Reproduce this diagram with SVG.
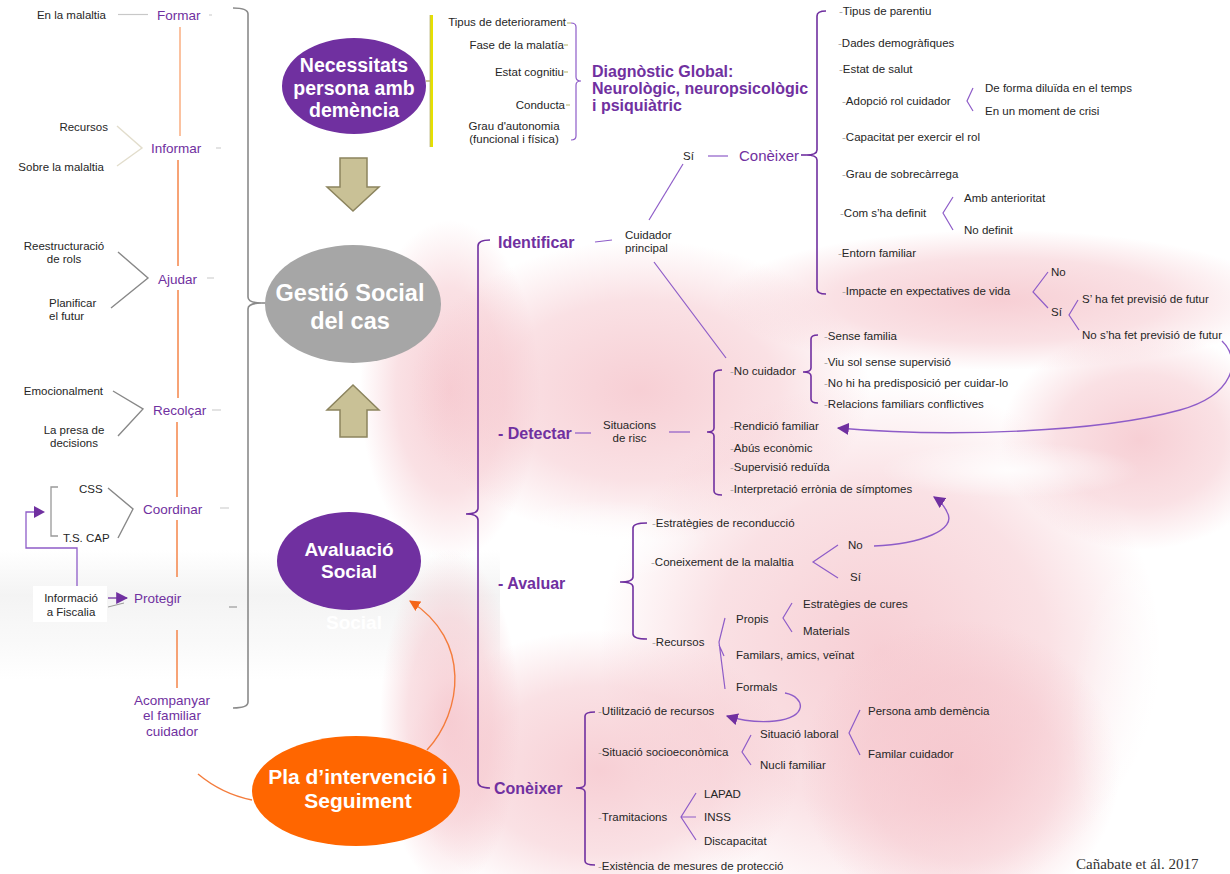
<svg xmlns="http://www.w3.org/2000/svg" width="1230" height="874" viewBox="0 0 1230 874">
<style>
text{font-family:"Liberation Sans",Arial,sans-serif}
.t{font-size:11.5px;fill:#262626}
.d{fill:#a8a8a8}
.p{font-size:13.5px;fill:#7030a0}
.b{font-size:16px;font-weight:bold;fill:#7030a0}
.w{fill:#fff;font-weight:bold;text-anchor:middle}
.m{text-anchor:middle}
.e{text-anchor:end}
.ln{fill:none;stroke:#8e5cc8;stroke-width:1.2}
.br{fill:none;stroke:#7030a0;stroke-width:1.6}
.or{fill:none;stroke:#f47c3c;stroke-width:1.4}
.gr{fill:none;stroke:#8a8a8a;stroke-width:1.6}
.lg{fill:none;stroke:#c8c8c8;stroke-width:1.2}
.arw{fill:#c9c196;stroke:#8c845e;stroke-width:1.5}
.pk{fill:url(#pk)}
</style>
<defs>
<radialGradient id="pk"><stop offset="0" stop-color="#f5c3ca" stop-opacity="0.8"/><stop offset="0.6" stop-color="#f5c3ca" stop-opacity="0.5"/><stop offset="1" stop-color="#f5c3ca" stop-opacity="0"/></radialGradient>
<radialGradient id="wh"><stop offset="0" stop-color="#fff" stop-opacity="0.85"/><stop offset="1" stop-color="#fff" stop-opacity="0"/></radialGradient>
<linearGradient id="gb" x1="0" y1="0" x2="0" y2="1"><stop offset="0" stop-color="#e8e8e8" stop-opacity="0"/><stop offset="0.35" stop-color="#e8e8e8" stop-opacity="0.5"/><stop offset="0.7" stop-color="#eeeeee" stop-opacity="0.35"/><stop offset="1" stop-color="#eeeeee" stop-opacity="0"/></linearGradient>
<marker id="ap" viewBox="0 0 10 10" refX="9" refY="5" markerWidth="12" markerHeight="12" markerUnits="userSpaceOnUse" orient="auto"><path d="M0,0 L10,5 L0,10 z" fill="#7030a0"/></marker>
<marker id="ao" viewBox="0 0 10 10" refX="9" refY="5" markerWidth="11" markerHeight="11" markerUnits="userSpaceOnUse" orient="auto"><path d="M0,0 L10,5 L0,10 z" fill="#f4661a"/></marker>
</defs>
<rect width="1230" height="874" fill="#fff"/>
<g id="background">
<rect x="0" y="550" width="500" height="130" fill="url(#gb)"/>
<ellipse class="pk" cx="450" cy="390" rx="90" ry="170"/>
<ellipse class="pk" cx="640" cy="390" rx="230" ry="150"/>
<ellipse class="pk" cx="880" cy="650" rx="280" ry="270"/>
<ellipse class="pk" cx="960" cy="770" rx="160" ry="150"/>
<ellipse class="pk" cx="1000" cy="300" rx="280" ry="70"/>
<ellipse class="pk" cx="1140" cy="440" rx="140" ry="110"/>
<ellipse class="pk" cx="600" cy="770" rx="200" ry="140"/>
<ellipse class="pk" cx="450" cy="720" rx="70" ry="170"/>
<ellipse fill="url(#wh)" cx="600" cy="540" rx="110" ry="40"/>
<ellipse fill="url(#wh)" cx="1010" cy="470" rx="130" ry="28"/>
<ellipse fill="url(#wh)" cx="1180" cy="720" rx="110" ry="200"/>
</g>
<text class="w" x="354" y="629" style="font-size:19px">Social</text>

<g id="connectors">
<path class="gr" d="M233,8 Q248,8 248,14 V297 Q248,303 262,303 Q248,303 248,309 V702 Q248,708 233,708"/>
<line class="gr" x1="262" y1="303" x2="267" y2="303"/>
<line class="lg" x1="118" y1="14.5" x2="148" y2="14.5"/>
<g stroke="#f47c3c" stroke-width="1.4">
<line x1="180" y1="27" x2="180" y2="136" stroke="#f9a878"/>
<line x1="178" y1="160" x2="178" y2="266"/>
<line x1="178" y1="290" x2="178" y2="398"/>
<line x1="177" y1="422" x2="177" y2="497"/>
<line x1="177" y1="520" x2="177" y2="577"/>
<line x1="177" y1="630" x2="177" y2="688"/>
</g>
<g stroke="#d0d0d0" stroke-width="1.2">
<line x1="209" y1="15" x2="212" y2="15"/>
<line x1="216" y1="148" x2="221" y2="148"/>
<line x1="207" y1="278" x2="214" y2="278"/>
<line x1="212" y1="410" x2="221" y2="410"/>
<line x1="220" y1="508" x2="229" y2="508"/>
<line x1="229" y1="607" x2="237" y2="607" stroke="#999"/>
</g>
<polyline fill="none" stroke="#e2ddcc" stroke-width="1.4" points="117,126 142,148 117,166"/>
<polyline fill="none" stroke="#888" stroke-width="1.4" points="118,252 148,278 111,308"/>
<polyline fill="none" stroke="#888" stroke-width="1.4" points="113,391 143,409 118,436"/>
<polyline fill="none" stroke="#888" stroke-width="1.4" points="108,488 133,509 118,538"/>
<path fill="none" stroke="#999" stroke-width="1.3" d="M58,487 H51 V536 H58"/>
<path fill="none" stroke="#8e5cc8" stroke-width="1.3" d="M77,586 V548 H26 V512 H34"/>
<polygon points="34,506 45,512 34,518" fill="#7030a0"/>
<line x1="108" y1="598" x2="127" y2="598" stroke="#7030a0" stroke-width="1.3" marker-end="url(#ap)"/>
<line x1="108" y1="607" x2="124" y2="603" stroke="#999" stroke-width="1"/>

<line x1="426" y1="81" x2="431" y2="81" stroke="#a8a050" stroke-width="1.2"/>
<line x1="431.5" y1="15" x2="431.5" y2="147" stroke="#e6e000" stroke-width="3"/>
<line x1="430" y1="15" x2="430" y2="147" stroke="#b8b478" stroke-width="0.8"/>
<g stroke="#b0b060" stroke-width="1">
<line x1="567" y1="23" x2="571" y2="23"/>
<line x1="564" y1="45" x2="568" y2="45"/>
<line x1="564" y1="72" x2="568" y2="72"/>
<line x1="566" y1="105" x2="570" y2="105"/>
</g>
<path class="ln" d="M571,23 Q576,23 576,27 V77 Q576,81 581,81 Q576,81 576,85 V136 Q576,140 571,140"/>

<path class="or" d="M198,774 Q222,794 252,800"/>
<path d="M427,750 C462,712 472,640 410,601" fill="none" stroke="#f47c3c" stroke-width="1.4" marker-end="url(#ao)"/>

<path class="br" d="M490,240 Q478,240 478,246 V508 Q478,514 466,514 Q478,514 478,520 V782 Q478,788 490,788"/>
<line class="ln" x1="595" y1="242" x2="612" y2="240"/>
<line class="ln" x1="649" y1="220" x2="683" y2="164"/>
<line class="ln" x1="654" y1="262" x2="726" y2="358"/>
<line class="ln" x1="708" y1="156" x2="728" y2="156"/>
<line class="br" x1="801" y1="155" x2="806" y2="155"/>
<path class="br" d="M826,11 Q817,11 817,16 V150 Q817,155 806,155 Q817,155 817,160 V289 Q817,294 826,294"/>
<polyline class="ln" points="973,88 967,101 973,111"/>
<polyline class="ln" points="953,197 943,213 953,230"/>
<polyline class="ln" points="1048,272 1033,292 1048,308"/>
<polyline class="ln" points="1078,300 1069,315 1079,330"/>
<path d="M1222,341 C1242,360 1234,395 1180,410 C1100,432 950,438 838,428" fill="none" stroke="#8e5cc8" stroke-width="1.4" marker-end="url(#ap)"/>

<line class="ln" x1="575" y1="433" x2="591" y2="433"/>
<line class="ln" x1="669" y1="432" x2="690" y2="432"/>
<path class="br" d="M722,370 Q714,370 714,374 V428 Q714,432 707,432 Q714,432 714,436 V491 Q714,495 722,495"/>
<path class="br" d="M818,335 Q811,335 811,339 V368 Q811,372 803,372 Q811,372 811,376 V399 Q811,403 818,403"/>

<path class="br" d="M647,523 Q633,523 633,528 V577 Q633,582 620,582 Q633,582 633,587 V634 Q633,639 647,639"/>
<polyline class="ln" points="838,545 813,562 838,578"/>
<path d="M874,546 C920,544 958,530 947,512 C944,505 940,501 934,497" fill="none" stroke="#8e5cc8" stroke-width="1.4" marker-end="url(#ap)"/>
<path class="ln" d="M725,618 L719,642 L725,689 M719,645 L724,656"/>
<polyline class="ln" points="792,603 783,618 792,632"/>
<path d="M785,693 C806,697 808,718 775,721 C755,723 740,720 727,716" fill="none" stroke="#8e5cc8" stroke-width="1.4" marker-end="url(#ap)"/>

<path class="br" d="M595,712 Q585,712 585,716 V784 Q585,788 576,788 Q585,788 585,792 V861 Q585,865 595,865"/>
<polyline class="ln" points="751,735 742,752 751,765"/>
<polyline class="ln" points="860,710 849,733 860,755"/>
<path class="ln" d="M696,793 L681,817 L696,840 M681,817 H696"/>
</g>

<g id="left-items">
<text class="t e" x="106" y="19">En la malaltia</text>
<text class="t e" x="108" y="131">Recursos</text>
<text class="t e" x="104" y="171">Sobre la malaltia</text>
<text class="t m" x="64" y="250">Reestructuració</text>
<text class="t m" x="64" y="263">de rols</text>
<text class="t" x="49" y="307">Planificar</text>
<text class="t" x="49" y="320">el futur</text>
<text class="t e" x="103" y="395">Emocionalment</text>
<text class="t m" x="74" y="434">La presa de</text>
<text class="t m" x="74" y="447">decisions</text>
<text class="t" x="79" y="493">CSS</text>
<text class="t" x="63" y="542">T.S. CAP</text>
</g>
<g id="fiscalia">
<rect x="33" y="586" width="74" height="36" fill="#fff"/>
<text class="t m" x="71" y="602">Informació</text>
<text class="t m" x="71" y="616">a Fiscalia</text>
</g>
<g id="formar"><text class="p" x="157" y="19.5">Formar</text></g>
<g id="informar"><text class="p" x="151" y="152.5">Informar</text></g>
<g id="ajudar"><text class="p" x="158" y="283.5">Ajudar</text></g>
<g id="recolcar"><text class="p" x="153" y="414.5">Recolçar</text></g>
<g id="coordinar"><text class="p" x="143" y="513.5">Coordinar</text></g>
<g id="protegir"><text class="p" x="134" y="603">Protegir</text></g>
<g id="acompanyar">
<text class="p m" x="172" y="704.5">Acompanyar</text>
<text class="p m" x="172" y="720">el familiar</text>
<text class="p m" x="172" y="735.5">cuidador</text>
</g>

<g id="necessitats">
<ellipse cx="354" cy="86" rx="72" ry="48" fill="#7030a0"/>
<text class="w" x="354" y="72" style="font-size:19.5px">Necessitats</text>
<text class="w" x="354" y="95" style="font-size:19.5px">persona amb</text>
<text class="w" x="354" y="117" style="font-size:19.5px">demència</text>
</g>
<g id="arrow-down"><path class="arw" d="M340,158 H367 V187 H379 L353,211 L327,187 H340 Z"/></g>
<g id="gestio">
<ellipse cx="353" cy="304" rx="88" ry="59" fill="#a6a6a6"/>
<text class="w" x="350" y="301" style="font-size:23.5px">Gestió Social</text>
<text class="w" x="350" y="329" style="font-size:23.5px">del cas</text>
</g>
<g id="arrow-up"><path class="arw" d="M353,385 L379,410 H367 V437 H340 V410 H327 Z"/></g>
<g id="avaluacio">
<ellipse cx="349" cy="561" rx="72" ry="49" fill="#7030a0"/>
<text class="w" x="349" y="556" style="font-size:19px">Avaluació</text>
<text class="w" x="349" y="578" style="font-size:19px">Social</text>
</g>
<g id="pla">
<ellipse cx="356" cy="791" rx="104" ry="55" fill="#ff6600"/>
<text class="w" x="358" y="784" style="font-size:21px">Pla d’intervenció i</text>
<text class="w" x="358" y="808" style="font-size:21px">Seguiment</text>
</g>

<g id="diagnostic">
<text class="t e" x="566" y="26">Tipus de deteriorament</text>
<text class="t e" x="564" y="49">Fase de la malatía</text>
<text class="t e" x="564" y="76">Estat cognitiu</text>
<text class="t e" x="565" y="109">Conducta</text>
<text class="t m" x="514" y="130">Grau d'autonomia</text>
<text class="t m" x="514" y="143">(funcional i física)</text>
<text class="b" x="592" y="76.5">Diagnòstic Global:</text>
<text class="b" x="592" y="93.5">Neurològic, neuropsicològic</text>
<text class="b" x="592" y="110.5">i psiquiàtric</text>
</g>

<g id="identificar">
<text class="b" x="498" y="247.5">Identificar</text>
<text class="t" x="625" y="238.5">Cuidador</text>
<text class="t" x="625" y="252">principal</text>
<text class="t" x="683" y="159.5">Sí</text>
<text x="739" y="160.5" style="font-size:15px;fill:#7030a0">Conèixer</text>
</g>
<g id="coneixer-cuidador">
<text class="t" x="839" y="15"><tspan class="d">-</tspan>Tipus de parentiu</text>
<text class="t" x="838" y="47"><tspan class="d">-</tspan>Dades demogràfiques</text>
<text class="t" x="839" y="73"><tspan class="d">-</tspan>Estat de salut</text>
<text class="t" x="842" y="105"><tspan class="d">-</tspan>Adopció rol cuidador</text>
<text class="t" x="985" y="92">De forma diluïda  en el temps</text>
<text class="t" x="985" y="115">En un moment de crisi</text>
<text class="t" x="842" y="141"><tspan class="d">-</tspan>Capacitat per exercir el rol</text>
<text class="t" x="842" y="178"><tspan class="d">-</tspan>Grau de sobrecàrrega</text>
<text class="t" x="840" y="217"><tspan class="d">-</tspan>Com s’ha definit</text>
<text class="t" x="964" y="202">Amb anterioritat</text>
<text class="t" x="964" y="234">No definit</text>
<text class="t" x="838" y="257"><tspan class="d">-</tspan>Entorn familiar</text>
<text class="t" x="842" y="295"><tspan class="d">-</tspan>Impacte en expectatives de vida</text>
<text class="t" x="1051" y="276">No</text>
<text class="t" x="1051" y="316">Sí</text>
<text class="t" x="1082" y="302.5">S’ ha fet previsió de futur</text>
<text class="t" x="1082" y="338.5">No s’ha fet previsió de futur</text>
</g>

<g id="detectar">
<text class="b" x="498" y="438.5">- Detectar</text>
<text class="t m" x="629.5" y="429">Situacions</text>
<text class="t m" x="629.5" y="442">de risc</text>
<text class="t" x="730" y="375"><tspan class="d">-</tspan>No cuidador</text>
<text class="t" x="824" y="340"><tspan class="d">-</tspan>Sense familia</text>
<text class="t" x="824" y="366"><tspan class="d">-</tspan>Viu sol sense supervisió</text>
<text class="t" x="824" y="386.5"><tspan class="d">-</tspan>No hi ha predisposició per cuidar-lo</text>
<text class="t" x="824" y="407.5"><tspan class="d">-</tspan>Relacions familiars conflictives</text>
<text class="t" x="730" y="430"><tspan class="d">-</tspan>Rendició familiar</text>
<text class="t" x="730" y="451.5"><tspan class="d">-</tspan>Abús econòmic</text>
<text class="t" x="730" y="471"><tspan class="d">-</tspan>Supervisió reduïda</text>
<text class="t" x="730" y="492.5"><tspan class="d">-</tspan>Interpretació errònia de símptomes</text>
</g>

<g id="avaluar">
<text class="b" x="498" y="589">- Avaluar</text>
<text class="t" x="652" y="527"><tspan class="d">-</tspan>Estratègies de reconducció</text>
<text class="t" x="651" y="566"><tspan class="d">-</tspan>Coneixement de la malaltia</text>
<text class="t" x="848" y="549">No</text>
<text class="t" x="850" y="581">Sí</text>
<text class="t" x="652" y="646"><tspan class="d">-</tspan>Recursos</text>
<text class="t" x="736" y="622.5">Propis</text>
<text class="t" x="803" y="608">Estratègies de cures</text>
<text class="t" x="803" y="635">Materials</text>
<text class="t" x="736" y="658.5">Familars, amics, veïnat</text>
<text class="t" x="736" y="690.5">Formals</text>
</g>

<g id="coneixer">
<text class="b" x="494" y="793.5">Conèixer</text>
<text class="t" x="598" y="715"><tspan class="d">-</tspan>Utilització  de recursos</text>
<text class="t" x="598" y="756"><tspan class="d">-</tspan>Situació socioeconòmica</text>
<text class="t" x="760" y="738">Situació laboral</text>
<text class="t" x="760" y="769">Nucli familiar</text>
<text class="t" x="868" y="715">Persona amb demència</text>
<text class="t" x="868" y="758">Familar cuidador</text>
<text class="t" x="598" y="821"><tspan class="d">-</tspan>Tramitacions</text>
<text class="t" x="704" y="797.5">LAPAD</text>
<text class="t" x="704" y="821">INSS</text>
<text class="t" x="704" y="845">Discapacitat</text>
<text class="t" x="598" y="869.5"><tspan class="d">-</tspan>Existència de mesures de protecció</text>
</g>

<g id="credit">
<text x="1076" y="869" style="font-family:'Liberation Serif','Times New Roman',serif;font-size:15px;fill:#333">Cañabate et ál. 2017</text>
</g>
</svg>
